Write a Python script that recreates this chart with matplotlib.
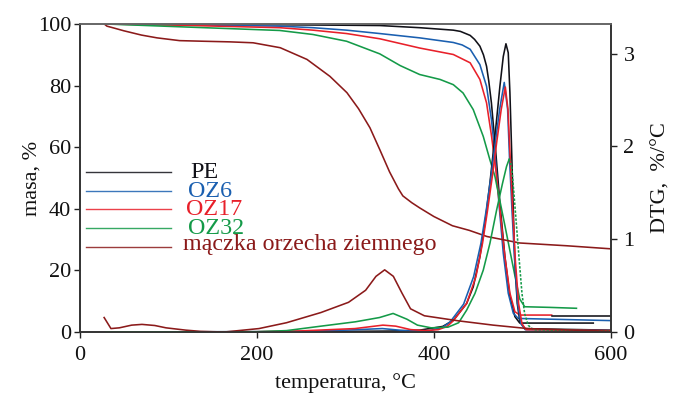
import matplotlib
matplotlib.use("Agg")
import matplotlib.pyplot as plt

# ---------------- data ----------------
# TG curves (mass, %)
pe_tg_t = [30, 100, 200, 300, 339, 384, 422, 430, 441, 446, 452, 456, 459.5, 462, 465, 470, 474.6, 480.2, 485.9, 491.5, 497, 580]
pe_tg_m = [100, 99.9, 99.8, 99.6, 99.5, 98.8, 98.0, 97.6, 96.3, 95.0, 92.8, 90.0, 86.3, 81.5, 74.4, 58.1, 41.8, 24.5, 11.5, 5.0, 2.9, 2.9]
pe_tail_t = [533, 600]
pe_tail_m = [5.3, 5.3]

oz6_tg_t = [30, 113, 226, 263.5, 301.5, 339, 384, 422, 432, 441, 452, 459.5, 465, 469, 473.5, 478.4, 484, 489.7, 495.3, 600]
oz6_tg_m = [100, 99.8, 99.3, 98.8, 98.0, 96.9, 95.5, 94.0, 93.2, 91.8, 86.8, 79.8, 69.0, 58.1, 41.8, 25.6, 12.6, 6.1, 4.4, 3.7]

oz17_tg_t = [30, 113, 226, 263.5, 301.5, 339, 384, 422, 441, 452, 459.5, 465.2, 470, 474.6, 480.2, 485.9, 491.5, 497, 533]
oz17_tg_m = [100, 99.6, 98.8, 98.0, 96.9, 95.2, 92.2, 90.1, 87.4, 82.0, 74.4, 63.5, 52.7, 39.7, 24.5, 12.6, 6.6, 5.5, 5.5]

oz32_tg_t = [30, 113, 226, 263.5, 301.5, 339, 362, 384, 407, 422, 433, 444.5, 455.8, 463.3, 469, 480.2, 491.5, 497, 502.6, 530, 561]
oz32_tg_m = [100, 99.1, 97.9, 96.6, 94.4, 90.3, 86.5, 83.6, 82.0, 80.3, 77.6, 72.2, 63.5, 55.9, 50.5, 34.6, 18.3, 10.7, 8.2, 8.0, 7.7]

mo_tg_t = [28, 31, 40, 50, 70, 87.5, 113, 140, 170, 196, 226.6, 256.8, 282.7, 301.9, 315, 327.9, 339, 350, 360, 365, 375, 384, 400, 421, 440, 460, 497, 550, 600]
mo_tg_m = [100, 99.3, 98.6, 97.8, 96.4, 95.5, 94.6, 94.4, 94.2, 93.9, 92.3, 88.5, 83.0, 77.7, 72.5, 66.3, 59.2, 52.0, 46.5, 44.2, 42.0, 40.3, 37.5, 34.5, 33.0, 31.0, 28.9, 28.0, 27.0]

# DTG curves (%/°C)
pe_dtg_t = [30, 200, 350, 384, 410, 422, 437, 444.5, 452, 457.7, 463.3, 469, 474.6, 478.4, 481.4, 484, 485.9, 487.8, 489.7, 491.5, 494.2, 497.2, 502.8, 600]
pe_dtg_d = [0.0, 0.0, 0.01, 0.02, 0.06, 0.126, 0.307, 0.487, 0.811, 1.172, 1.605, 2.109, 2.65, 2.97, 3.107, 3.01, 2.577, 1.964, 1.316, 0.739, 0.307, 0.108, 0.036, 0.02]

oz6_dtg_t = [30, 250, 300, 342, 370, 395, 410, 418.5, 433.6, 444.9, 453.2, 459.2, 464.5, 469.4, 474.3, 479.5, 483.3, 485.5, 488.2, 491.2, 494.6, 498.3, 503.2, 600]
oz6_dtg_d = [0.0, 0.005, 0.02, 0.037, 0.012, 0.015, 0.05, 0.11, 0.30, 0.596, 0.958, 1.316, 1.676, 2.04, 2.40, 2.69, 2.40, 1.86, 1.316, 0.775, 0.307, 0.09, 0.025, 0.015]

oz17_dtg_t = [30, 200, 250, 311, 342.5, 357, 373.7, 390, 405, 415, 421.9, 437, 447.5, 455, 460.7, 466, 470.9, 476.1, 480.7, 483.7, 486.3, 489, 492, 495.7, 499.5, 504, 600]
oz17_dtg_d = [0.0, 0.003, 0.012, 0.037, 0.074, 0.063, 0.026, 0.015, 0.025, 0.06, 0.12, 0.307, 0.596, 0.958, 1.316, 1.676, 2.04, 2.40, 2.64, 2.40, 1.86, 1.316, 0.775, 0.307, 0.09, 0.025, 0.015]

oz32_dtg_t = [30, 200, 233.7, 272.6, 311.5, 338.7, 354, 369.6, 381.5, 397, 416, 428, 437, 446.4, 455.8, 463.3, 470.9, 477.6, 482.1, 485.1, 487.8, 490.4, 493.4, 496.4, 499.5, 502.5, 506.6, 512.3, 600]
oz32_dtg_d = [0.0, 0.003, 0.015, 0.063, 0.11, 0.156, 0.20, 0.138, 0.074, 0.045, 0.052, 0.10, 0.235, 0.415, 0.667, 0.955, 1.316, 1.605, 1.785, 1.864, 1.785, 1.496, 1.135, 0.775, 0.415, 0.198, 0.072, 0.025, 0.01]

mo_dtg_t = [27.8, 35.5, 45, 58.9, 70.5, 85, 97.6, 120, 136.6, 163.8, 202.6, 233.7, 272.6, 303.7, 323, 334.7, 344.5, 354.3, 364, 373.7, 389.3, 428, 467, 506, 599]
mo_dtg_d = [0.156, 0.037, 0.045, 0.074, 0.082, 0.07, 0.045, 0.02, 0.007, 0.0, 0.037, 0.10, 0.21, 0.32, 0.45, 0.60, 0.67, 0.60, 0.42, 0.25, 0.175, 0.12, 0.074, 0.037, 0.007]

labels = ["PE", "OZ6", "OZ17", "OZ32", "mączka orzecha ziemnego"]
colors = ["#111118", "#1a5fb0", "#e8202a", "#149a48", "#8b1a1a"]

x_ticks = [0, 200, 400, 600]
y_ticks = [0, 20, 40, 60, 80, 100]
y2_ticks = [0, 1, 2, 3]

# ---------------- figure ----------------
plt.rcParams['font.family'] = ['Liberation Serif', 'DejaVu Serif']
FS = 16

fig = plt.figure(figsize=(6.74, 3.94), dpi=100)
ax = fig.add_axes([79.5 / 674, 62 / 394, 531.5 / 674, 308 / 394])
ax2 = ax.twinx()

lw = 1.15
tg = [(pe_tg_t, pe_tg_m), (oz6_tg_t, oz6_tg_m), (oz17_tg_t, oz17_tg_m), (oz32_tg_t, oz32_tg_m), (mo_tg_t, mo_tg_m)]
dtg = [(pe_dtg_t, pe_dtg_d), (oz6_dtg_t, oz6_dtg_d), (oz17_dtg_t, oz17_dtg_d), (oz32_dtg_t, oz32_dtg_d), (mo_dtg_t, mo_dtg_d)]

for (t, m), c in zip(tg, colors):
    ax.plot(t, m, color=c, lw=lw)
ax.plot(pe_tail_t, pe_tail_m, color=colors[0], lw=lw)
for i, ((t, d), c) in enumerate(zip(dtg, colors)):
    if i == 3:
        # OZ32: solid rising flank, dotted falling flank (as in the reference)
        k = d.index(max(d))
        ax2.plot(t[:k + 1], d[:k + 1], color=c, lw=lw)
        ax2.plot(t[k:], d[k:], color=c, lw=lw, ls=(0, (1.5, 1)))
    else:
        ax2.plot(t, d, color=c, lw=lw)

ax.set_xlim(0, 600)
ax.set_ylim(0, 100)
ax2.set_ylim(0, 3.32)
ax.set_xticks(x_ticks)
ax.set_yticks(y_ticks)
ax2.set_yticks(y2_ticks)

for a in (ax, ax2):
    a.tick_params(direction='out', length=4, width=1, labelsize=FS, colors='#222222', labelcolor='#111111')
    for s in a.spines.values():
        s.set_color('#333333')
        s.set_linewidth(1.2)
    a.spines['top'].set_color('#666666')
ax.tick_params(axis='x', pad=6)
ax.tick_params(axis='y', pad=2)
ax2.tick_params(axis='y', pad=5)

ax.set_xlabel("temperatura, °C", fontsize=FS, color='#111111', labelpad=6)
ax.set_ylabel("masa, %", fontsize=FS, color='#111111', labelpad=-3)
ax2.set_ylabel("DTG,  %/°C", fontsize=FS, color='#111111', labelpad=12)

# manual legend
ly = [0.519, 0.458, 0.399, 0.338, 0.276]
tx = [0.208, 0.204, 0.200, 0.204, 0.195]
for i, (lab, c) in enumerate(zip(labels, colors)):
    ax.plot([0.012, 0.172], [ly[i], ly[i]], transform=ax.transAxes, color=c, lw=1.0, alpha=0.85)
    off = 0.01 if i == 4 else 0.02
    ax.text(tx[i], ly[i] - off, lab, transform=ax.transAxes, color=c, fontsize=FS + 1.3,
            ha='left', va='baseline')

fig.savefig("out.png", dpi=100)
